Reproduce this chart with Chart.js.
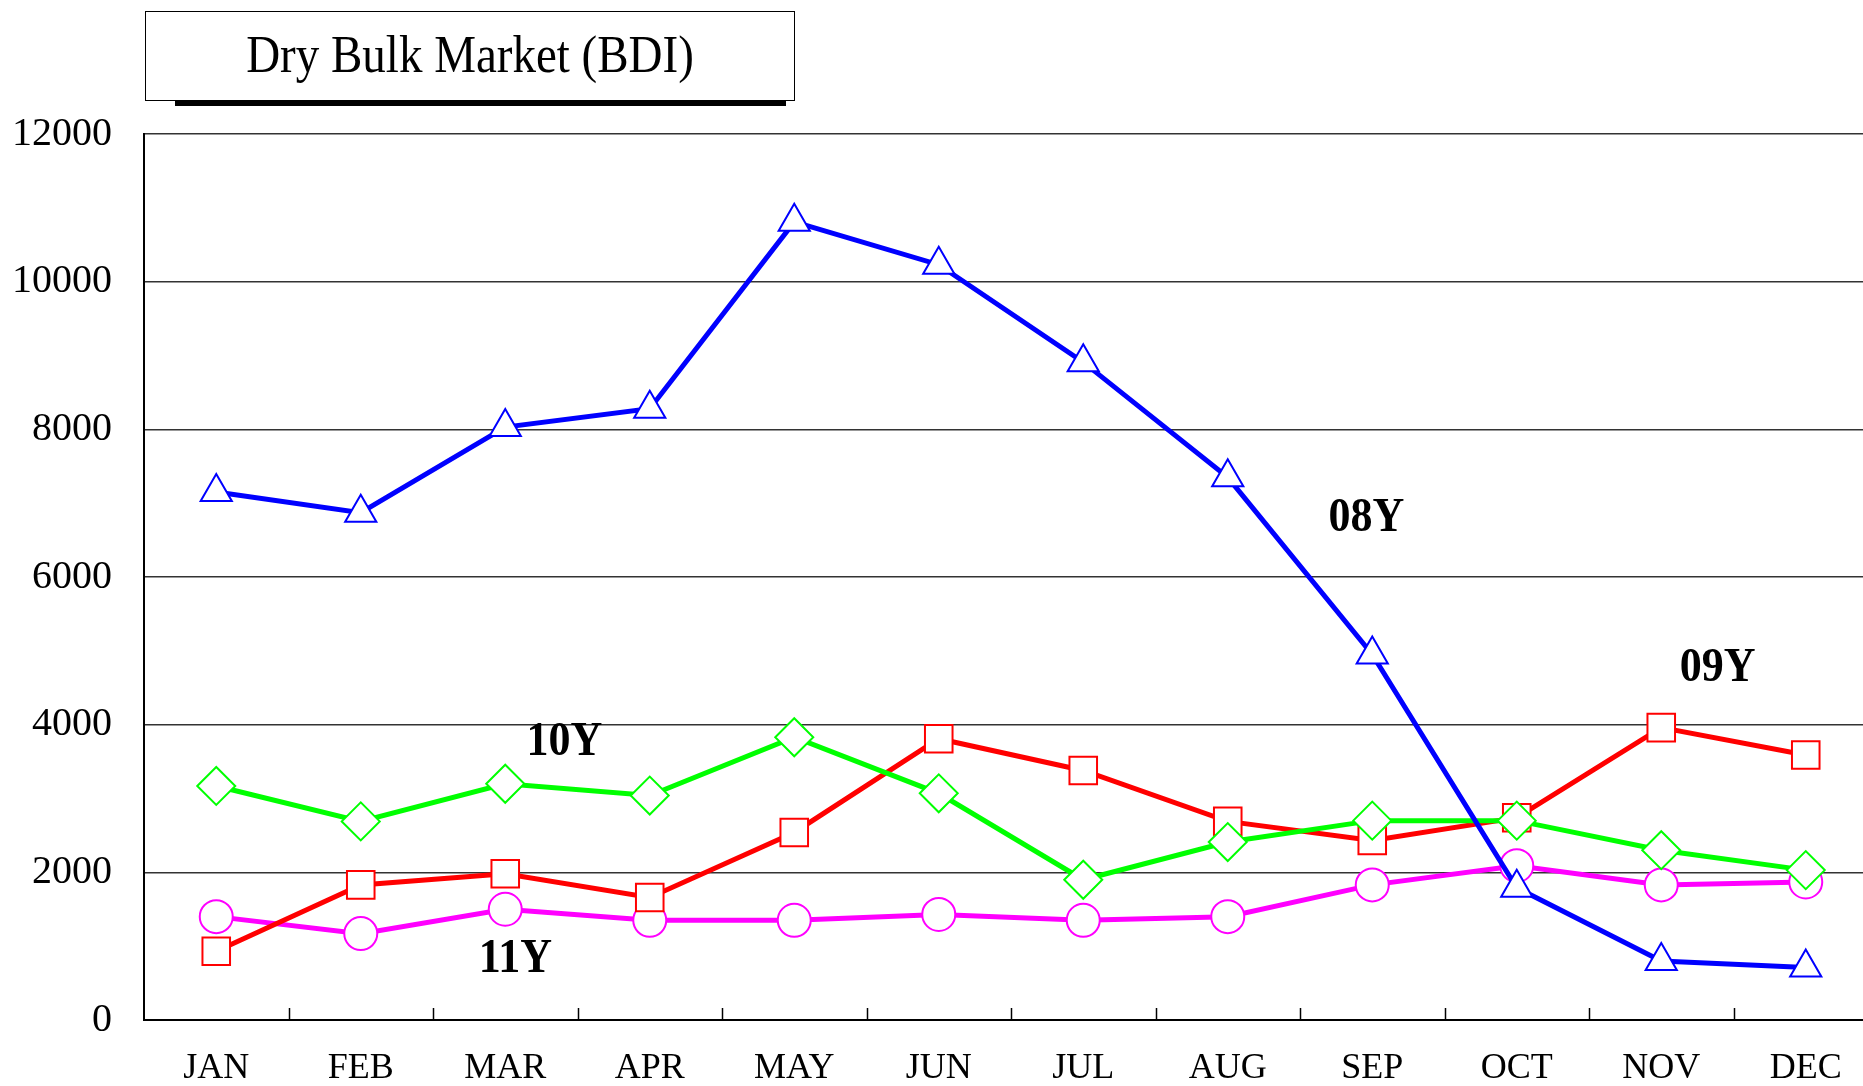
<!DOCTYPE html>
<html>
<head>
<meta charset="utf-8">
<script src="https://cdn.jsdelivr.net/npm/chart.js@4.4.0/dist/chart.umd.min.js"></script>
<style>
  html, body { margin: 0; padding: 0; background: #fff; overflow: hidden; }
  #wrap { position: relative; width: 1863px; height: 1086px; overflow: hidden; }
  #chart { position: absolute; left: 0; top: 0; }
  #titleBox {
    position: absolute; left: 145px; top: 11px; width: 650px; height: 90px;
    box-sizing: border-box; border: 1.5px solid #000; background: #fff;
    font-family: 'Liberation Serif', 'Times New Roman', serif; font-size: 47px;
    line-height: 84px; text-align: center; color: #000;
  }
  #titleBox span { display: inline-block; transform: scaleY(1.12); }
  #titleShadow { position: absolute; left: 175px; top: 101px; width: 611px; height: 5px; background: #000; }
</style>
</head>
<body>
<div id="wrap">
  <canvas id="chart" width="1880" height="1086"></canvas>
  <div id="titleShadow"></div>
  <div id="titleBox"><span>Dry Bulk Market (BDI)</span></div>
</div>
<script>
// months on the x axis
const months = ['JAN', 'FEB', 'MAR', 'APR', 'MAY', 'JUN', 'JUL', 'AUG', 'SEP', 'OCT', 'NOV', 'DEC'];

// monthly BDI
const bdi08 = [7150, 6870, 8030, 8280, 10810, 10230, 8910, 7350, 4950, 1790, 800, 710];
const bdi09 = [930, 1830, 1980, 1660, 2540, 3810, 3380, 2690, 2430, 2740, 3960, 3590];
const bdi10 = [3170, 2690, 3200, 3040, 3830, 3070, 1900, 2410, 2700, 2700, 2300, 2030];
const bdi11 = [1400, 1170, 1500, 1350, 1350, 1430, 1350, 1400, 1830, 2090, 1830, 1870];

// y axis
const yMin = 0;
const yMax = 12000;
const yStep = 2000;

// series tags written inside the plot (month index, value)
const tagText = ['08Y', '09Y', '10Y', '11Y'];
const tagIndex = [7.96, 10.39, 2.41, 2.07];
const tagValue = [6790, 4760, 3760, 820];

const serif = "'Liberation Serif', 'Times New Roman', serif";

// small tick marks pointing up from the x axis, between months
const innerTicks = {
  id: 'innerTicks',
  afterDatasetsDraw(chart) {
    const x = chart.scales.x;
    const ctx = chart.ctx;
    const bottom = chart.chartArea.bottom;
    ctx.save();
    ctx.strokeStyle = '#000';
    ctx.lineWidth = 1.5;
    for (let i = 1; i < months.length; i++) {
      const px = Math.round((x.getPixelForValue(i - 1) + x.getPixelForValue(i)) / 2) + 0.5;
      ctx.beginPath();
      ctx.moveTo(px, bottom);
      ctx.lineTo(px, bottom - 12);
      ctx.stroke();
    }
    ctx.restore();
  }
};

const seriesTags = {
  id: 'seriesTags',
  afterDatasetsDraw(chart) {
    const { x, y } = chart.scales;
    const ctx = chart.ctx;
    ctx.save();
    ctx.fillStyle = '#000';
    ctx.font = 'bold 44px ' + serif;
    ctx.textAlign = 'center';
    ctx.textBaseline = 'middle';
    tagText.forEach((t, i) => {
      const px = x.getPixelForValue(tagIndex[i]);
      const py = y.getPixelForValue(tagValue[i]);
      ctx.save();
      ctx.translate(px, py);
      ctx.scale(1, 1.12);
      ctx.fillText(t, 0, 0);
      ctx.restore();
    });
    ctx.restore();
  }
};

const mkSet = (label, data, color, style, radius, order) => ({
  label,
  data,
  borderColor: color,
  borderWidth: 5,
  pointStyle: style,
  pointRadius: radius,
  pointHoverRadius: radius,
  pointBackgroundColor: '#fff',
  pointBorderColor: color,
  pointBorderWidth: 2,
  tension: 0,
  fill: false,
  order
});

new Chart(document.getElementById('chart'), {
  type: 'line',
  data: {
    labels: months,
    datasets: [
      mkSet('08Y', bdi08, '#0000ff', 'triangle', 18, 0),
      mkSet('09Y', bdi09, '#ff0000', 'rect', 19.5, 2),
      mkSet('10Y', bdi10, '#00ff00', 'rectRot', 19, 1),
      mkSet('11Y', bdi11, '#ff00ff', 'circle', 16.5, 3)
    ]
  },
  options: {
    responsive: false,
    animation: false,
    layout: { autoPadding: false, padding: { left: 0, top: 134, right: 2, bottom: 0 } },
    plugins: {
      legend: { display: false },
      title: { display: false },
      tooltip: { enabled: false }
    },
    scales: {
      x: {
        offset: true,
        grid: { display: false, drawTicks: false },
        border: { display: true, color: '#000', width: 2 },
        ticks: { color: '#000', font: { family: serif, size: 36 }, padding: 27, maxRotation: 0 },
        afterFit(scale) {
          scale.height = 66;
          scale.paddingLeft = 0;
          scale.paddingRight = 0;
        }
      },
      y: {
        min: yMin,
        max: yMax,
        grid: { color: '#333', lineWidth: 1.5, drawTicks: false },
        border: { display: true, color: '#000', width: 2 },
        ticks: {
          stepSize: yStep, color: '#000', font: { family: serif, size: 40 }, padding: 32,
          callback: (v) => String(v)
        },
        afterFit(scale) { scale.width = 144; }
      }
    }
  },
  plugins: [innerTicks, seriesTags]
});
</script>
</body>
</html>
